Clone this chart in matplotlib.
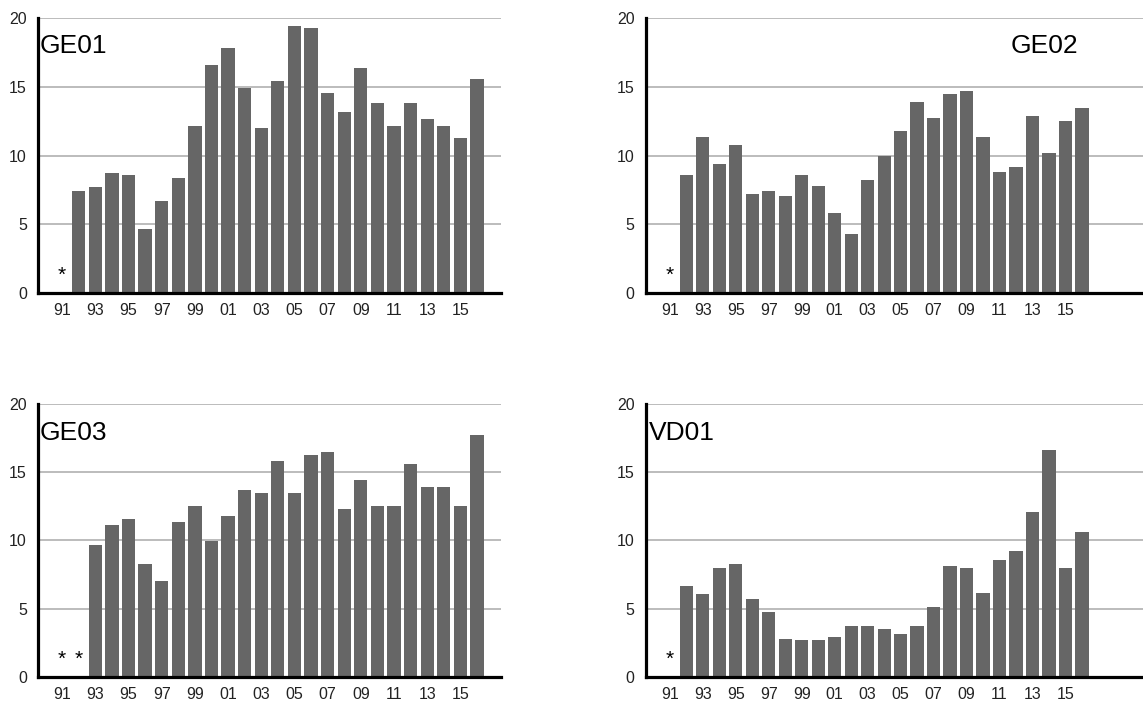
import matplotlib
matplotlib.use("Agg")
import matplotlib.pyplot as plt
import numpy as np

plt.rcParams["font.family"] = ["Liberation Sans", "DejaVu Sans"]

# Years 1991..2016, labels on every other year
years = list(range(1991, 2017))
tick_labels = ["91", "93", "95", "97", "99", "01", "03", "05", "07", "09", "11", "13", "15"]

nan = np.nan
ge01 = [nan, 7.4, 7.7, 8.75, 8.6, 4.65, 6.7, 8.4, 12.15, 16.6, 17.8, 14.9, 12.0, 15.4,
        19.45, 19.25, 14.55, 13.15, 16.4, 13.85, 12.15, 13.85, 12.65, 12.15, 11.3, 15.55]
ge02 = [nan, 8.6, 11.35, 9.4, 10.75, 7.2, 7.45, 7.05, 8.6, 7.8, 5.85, 4.3, 8.2, 9.95,
        11.75, 13.9, 12.7, 14.45, 14.7, 11.35, 8.8, 9.2, 12.9, 10.2, 12.5, 13.45]
ge03 = [nan, nan, 9.65, 11.1, 11.55, 8.25, 7.0, 11.35, 12.5, 9.95, 11.8, 13.7, 13.45, 15.8,
        13.45, 16.25, 16.5, 12.3, 14.4, 12.55, 12.55, 15.6, 13.95, 13.95, 12.55, 17.7]
vd01 = [nan, 6.65, 6.05, 7.95, 8.25, 5.7, 4.75, 2.8, 2.7, 2.7, 2.95, 3.75, 3.75, 3.5,
        3.15, 3.75, 5.1, 8.1, 7.95, 6.15, 8.55, 9.25, 12.1, 16.6, 7.95, 10.65]

panels = [
    ("GE01", ge01, [0.0332, 0.5838, 0.4051, 0.3906], 26.45, (-1.38, 18.0), "left"),
    ("GE02", ge02, [0.5649, 0.5838, 0.4351, 0.3906], 28.7, (22.7, 18.0), "center"),
    ("GE03", ge03, [0.0332, 0.0384, 0.4051, 0.3878], 26.45, (-1.38, 17.9), "left"),
    ("VD01", vd01, [0.5649, 0.0384, 0.4351, 0.3878], 28.7, (-1.28, 17.9), "left"),
]

fig = plt.figure(figsize=(11.43, 7.04), dpi=100)
x = np.arange(len(years))

for name, values, rect, xmax, label_pos, ha in panels:
    ax = fig.add_axes(rect)
    vals = np.array(values, dtype=float)
    ax.bar(x, vals, width=0.8, color="#666666", zorder=2)

    # missing years get an asterisk
    for i in np.where(np.isnan(vals))[0]:
        ax.text(x[i], 0.6, "*", ha="center", va="bottom", fontsize=15, color="black")

    ax.set_xlim(-1.46, xmax)
    ax.set_ylim(0, 20)
    ax.set_yticks([0, 5, 10, 15, 20])
    ax.set_xticks(x[::2])
    ax.set_xticklabels(tick_labels)
    ax.tick_params(length=0, labelsize=11.5, colors="#222222")
    ax.tick_params(axis="y", pad=8)
    ax.tick_params(axis="x", pad=7)

    ax.yaxis.grid(True, color="#aaaaaa", linewidth=1.1, zorder=0)
    ax.set_axisbelow(True)
    for side in ("top", "right"):
        ax.spines[side].set_visible(False)
    for side in ("left", "bottom"):
        ax.spines[side].set_linewidth(2.3)
        ax.spines[side].set_color("black")
        ax.spines[side].set_zorder(3)

    ax.text(label_pos[0], label_pos[1], name, ha=ha, va="center", fontsize=19)

fig.savefig("out.png", dpi=100, facecolor="white")
